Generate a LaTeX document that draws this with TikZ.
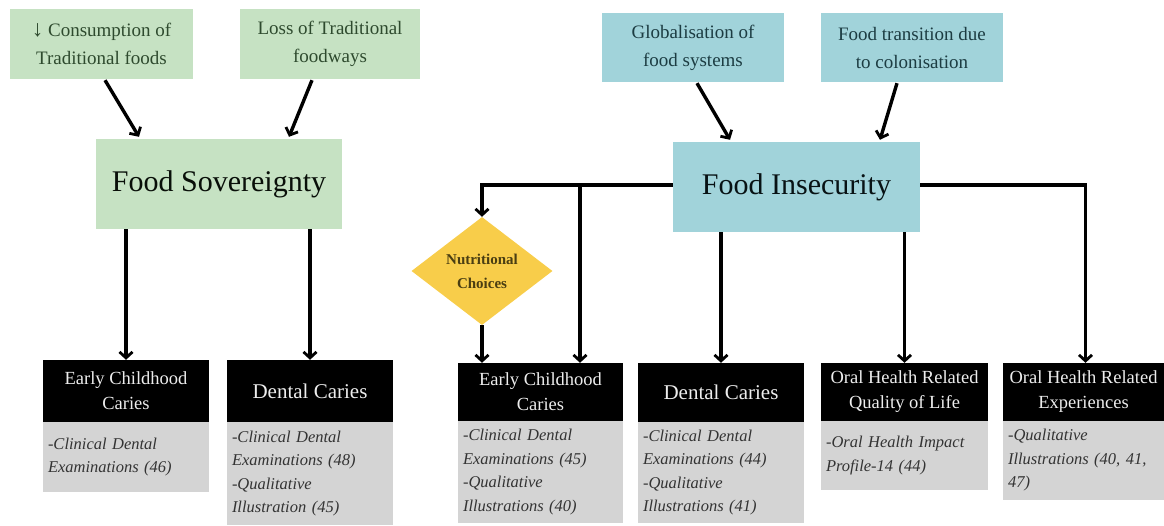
\documentclass[tikz,border=0pt]{standalone}
\usepackage{fontspec}
\setmainfont{Liberation Serif}
\usetikzlibrary{arrows.meta,shapes.geometric}
\definecolor{gfill}{HTML}{C6E2C3}
\definecolor{gtext}{HTML}{2E4A2E}
\definecolor{bfill}{HTML}{A1D3DA}
\definecolor{btext}{HTML}{1C3C42}
\definecolor{yfill}{HTML}{F8CD4A}
\definecolor{ytext}{HTML}{4A3E12}
\definecolor{grfill}{HTML}{D4D4D4}
\definecolor{grtext}{HTML}{333333}
\begin{document}
\begin{tikzpicture}[x=1pt,y=-1pt,
  cause/.style={inner sep=0pt, align=center, font=\fontsize{19}{28}\selectfont},
  gcause/.style={cause, fill=gfill, text=gtext, minimum height=70},
  bcause/.style={cause, fill=bfill, text=btext, minimum height=69},
  mainbox/.style={inner sep=0pt, align=center, minimum height=90, font=\fontsize{30}{36}\selectfont},
  hdr/.style={fill=black, text=white!93!black, inner sep=0pt, align=center, font=\fontsize{18.5}{25}\selectfont},
  hdrbig/.style={hdr, font=\fontsize{21}{25}\selectfont},
  body/.style={fill=grfill, text=grtext, inner xsep=5pt, inner ysep=0pt, align=left, font=\fontsize{16.5}{23.5}\selectfont\itshape},
  arr/.style={line width=3.4pt, -{Straight Barb[length=6pt,width=13pt,line width=2.8pt]}}
]
\useasboundingbox (0,0) rectangle (1164,525);

% causes
\node[gcause, minimum width=183] (c1) at (101.5,44) {{\fontsize{23}{28}\selectfont ↓} Consumption of\\Traditional foods};
\node[gcause, minimum width=180] (c2) at (330,44) {Loss of Traditional\\foodways};
\node[bcause, minimum width=182] (g1) at (693,47.5) {Globalisation of\\food systems};
\node[bcause, minimum width=182] (g2) at (912,47.5) {Food transition due\\to colonisation};

% main boxes
\node[mainbox, fill=gfill, text=black!80!gtext, minimum width=246] (fs) at (219,184) {Food Sovereignty};
\node[mainbox, fill=bfill, text=black!70!btext, minimum width=247] (fi) at (796.5,187) {Food Insecurity};

% diamond
\node[diamond, fill=yfill, text=ytext, inner sep=0pt, minimum width=141, minimum height=108, align=center,
      font=\fontsize{15}{24}\selectfont\bfseries] (nc) at (482,271) {Nutritional\\Choices};

% outcome headers
\node[hdr, minimum width=166, minimum height=62] (e1h) at (126,391) {Early Childhood\\Caries};
\node[hdrbig, minimum width=166, minimum height=62] (d1h) at (310,391) {Dental Caries};
\node[hdr, minimum width=165, minimum height=58] (e2h) at (540.5,392) {Early Childhood\\Caries};
\node[hdrbig, minimum width=166, minimum height=59] (d2h) at (721,392.5) {Dental Caries};
\node[hdr, minimum width=167, minimum height=58] (qh) at (904.5,392) {Oral Health Related\\Quality of Life};
\node[hdr, minimum width=161, minimum height=58] (oh) at (1083.5,392) {Oral Health Related\\Experiences};

% outcome bodies
\node[body, text width=156, minimum height=70] (e1b) at (126,457) {-Clinical Dental\\Examinations (46)};
\node[body, text width=156, minimum height=103] (d1b) at (310,473.5) {-Clinical Dental\\Examinations (48)\\-Qualitative\\Illustration (45)};
\node[body, text width=155, minimum height=102] (e2b) at (540.5,472) {-Clinical Dental\\Examinations (45)\\-Qualitative\\Illustrations (40)};
\node[body, text width=156, minimum height=101] (d2b) at (721,472.5) {-Clinical Dental\\Examinations (44)\\-Qualitative\\Illustrations (41)};
\node[body, text width=157, minimum height=69] (qb) at (904.5,455.5) {-Oral Health Impact\\Profile-14 (44)};
\node[body, text width=151, minimum height=79] (ob) at (1083.5,460.5) {-Qualitative\\Illustrations (40, 41,\\47)};

% top arrows
\draw[arr] ([xshift=3.5pt,yshift=-1pt]c1.south) -- ([xshift=-80pt,yshift=2pt]fs.north);
\draw[arr] ([xshift=-18pt,yshift=-1pt]c2.south) -- ([xshift=70pt,yshift=2pt]fs.north);
\draw[arr] ([xshift=4pt,yshift=-1pt]g1.south) -- ([xshift=-66.5pt,yshift=2pt]fi.north);
\draw[arr] ([xshift=-15pt,yshift=-1pt]g2.south) -- ([xshift=83.5pt,yshift=2pt]fi.north);

% food sovereignty outcomes
\draw[arr] (fs.south -| e1h.north) -- (e1h.north);
\draw[arr] (fs.south -| d1h.north) -- (d1h.north);

% food insecurity outcomes
\coordinate (j2) at (580,0);
\draw[arr] ([yshift=2pt]fi.west) -| (nc.north);
\draw[arr] ([yshift=2pt]fi.west -| j2) -- (j2 |- e2h.north);
\draw[arr] (nc.south) -- (nc.south |- e2h.north);
\draw[arr] (fi.south -| d2h.north) -- (d2h.north);
\draw[arr] (fi.south -| qh.north) -- (qh.north);
\draw[arr] ([yshift=2pt]fi.east) -| ([xshift=2pt]oh.north);
\end{tikzpicture}
\end{document}
